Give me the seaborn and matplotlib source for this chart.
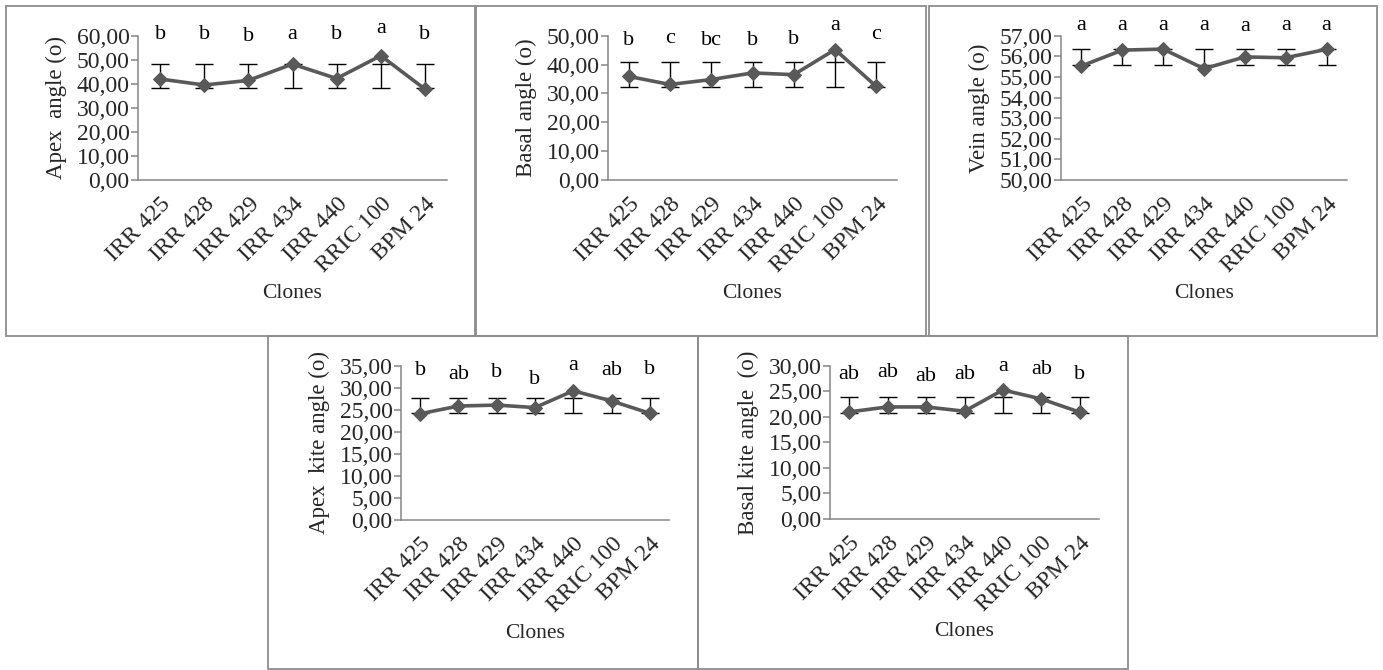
import numpy as np
import pandas as pd
import matplotlib
matplotlib.use("Agg")
import matplotlib.pyplot as plt
import seaborn as sns
from matplotlib.patches import Rectangle
from matplotlib.ticker import FuncFormatter, MultipleLocator, FixedLocator

clones = ["IRR 425", "IRR 428", "IRR 429", "IRR 434", "IRR 440", "RRIC 100", "BPM 24"]

# panel 1: apex angle
apex_mean = [42.0, 39.5, 41.4, 48.2, 42.2, 51.7, 37.8]
apex_lo = [38.2] * 7
apex_hi = [48.1] * 7
apex_letters = ["b", "b", "b", "a", "b", "a", "b"]
apex_letter_y = [60.6, 60.6, 59.6, 60.3, 60.6, 63.0, 60.6]

# panel 2: basal angle
basal_mean = [35.9, 33.1, 34.8, 37.1, 36.5, 45.2, 32.4]
basal_lo = [32.3] * 7
basal_hi = [40.8] * 7
basal_letters = ["b", "c", "bc", "b", "b", "a", "c"]
basal_letter_y = [48.3, 49.1, 48.5, 48.5, 48.8, 53.5, 50.5]

# panel 3: vein angle
vein_mean = [55.53, 56.30, 56.35, 55.40, 55.97, 55.93, 56.34]
vein_lo = [55.59] * 7
vein_hi = [56.35] * 7
vein_letters = ["a"] * 7
vein_letter_y = [57.48, 57.48, 57.48, 57.48, 57.44, 57.48, 57.48]

# panel 4: apex kite angle
akite_mean = [24.1, 25.85, 26.07, 25.5, 29.3, 27.0, 24.2]
akite_lo = [24.26] * 7
akite_hi = [27.74] * 7
akite_letters = ["b", "ab", "b", "b", "a", "ab", "b"]
akite_letter_y = [34.0, 32.9, 33.4, 31.9, 35.15, 33.9, 34.2]

# panel 5: basal kite angle
bkite_mean = [20.96, 21.93, 21.93, 21.09, 25.25, 23.49, 20.9]
bkite_lo = [20.76] * 7
bkite_hi = [23.82] * 7
bkite_letters = ["ab", "ab", "ab", "ab", "a", "ab", "b"]
bkite_letter_y = [28.2, 28.6, 27.9, 28.2, 29.8, 29.2, 28.2]

W, H = 1383, 670
sns.set_theme(style="white")
plt.rcParams["font.family"] = ["Liberation Serif", "DejaVu Serif"]
plt.rcParams["font.size"] = 16

LINE = "#595959"
AXIS = "#868686"
BORDER = "#8c8c8c"
TICK_FS = 17
LABEL_FS = 16.5
XLAB_FS = 15.5
LETTER_FS = 16


def rect(x0, x1, y0, y1):
    return [x0 / W, 1 - y1 / H, (x1 - x0) / W, (y1 - y0) / H]


def comma_fmt(v, pos):
    return f"{v:.2f}".replace(".", ",")


def panel(fig, box, mean, lo, hi, letters, letter_y, ylabel, ylim, step):
    ax = fig.add_axes(box)
    df = pd.DataFrame({"clone": clones, "mean": mean})
    xs = np.arange(len(clones))
    # error bars sit under the series
    ax.vlines(xs, np.minimum(lo, mean), np.maximum(hi, mean), color="black", lw=1.0, zorder=2)
    ax.plot(xs, lo, ls="none", marker="_", ms=13, mew=1.0, color="black", zorder=2)
    ax.plot(xs, hi, ls="none", marker="_", ms=13, mew=1.0, color="black", zorder=2)
    sns.lineplot(data=df, x="clone", y="mean", ax=ax, color=LINE, lw=2.6,
                 marker="D", markersize=7.5, markeredgecolor=LINE, zorder=3)
    for i, (t, ty) in enumerate(zip(letters, letter_y)):
        ax.text(i, ty, t, ha="center", va="center", fontsize=LETTER_FS, color="black")
    ax.set_xlim(-0.5, len(clones) - 0.5)
    ax.set_ylim(*ylim)
    ax.yaxis.set_major_locator(MultipleLocator(step))
    ax.yaxis.set_major_formatter(FuncFormatter(comma_fmt))
    ax.xaxis.set_major_locator(FixedLocator(xs))
    ax.xaxis.set_minor_locator(FixedLocator(np.arange(-0.5, len(clones), 1.0)))
    ax.set_xticklabels(clones, rotation=45, ha="right", rotation_mode="anchor")
    ax.tick_params(axis="x", which="major", length=0, pad=10, labelsize=TICK_FS)
    ax.tick_params(axis="x", which="minor", length=5, width=1.1, color=AXIS, direction="out")
    ax.tick_params(axis="y", length=5, width=1.1, color=AXIS, direction="out",
                   labelsize=TICK_FS, pad=1, left=True)
    for s in ["top", "right"]:
        ax.spines[s].set_visible(False)
    for s in ["left", "bottom"]:
        ax.spines[s].set_color(AXIS)
        ax.spines[s].set_linewidth(1.1)
    ax.set_facecolor("none")
    ax.set_ylabel(ylabel, fontsize=LABEL_FS, labelpad=7)
    ax.set_xlabel("Clones", fontsize=XLAB_FS)
    ax.xaxis.label.set_va("center")
    ax.grid(False)
    return ax


fig = plt.figure(figsize=(W / 100, H / 100), dpi=100)

# panel frames
for x0, x1, y0, y1 in [(6, 475, 6, 336), (476, 926, 6, 336), (929, 1377, 6, 336),
                       (268, 698, 336, 669), (698, 1128, 336, 669)]:
    fig.add_artist(Rectangle((x0 / W, 1 - y1 / H), (x1 - x0) / W, (y1 - y0) / H,
                             transform=fig.transFigure, fill=False, ec=BORDER, lw=1.3))

a1 = panel(fig, rect(138, 447, 35.7, 180), apex_mean, apex_lo, apex_hi, apex_letters,
           apex_letter_y, "Apex  angle (o)", (0, 60), 10)
a2 = panel(fig, rect(608, 897, 35.7, 180), basal_mean, basal_lo, basal_hi, basal_letters,
           basal_letter_y, "Basal angle (o)", (0, 50), 10)
a3 = panel(fig, rect(1061, 1347, 35.7, 180), vein_mean, vein_lo, vein_hi, vein_letters,
           vein_letter_y, "Vein angle (o)", (50, 57), 1)
a4 = panel(fig, rect(401, 669, 365.7, 520), akite_mean, akite_lo, akite_hi, akite_letters,
           akite_letter_y, "Apex  kite angle (o)", (0, 35), 5)
a5 = panel(fig, rect(830, 1099, 365.7, 519), bkite_mean, bkite_lo, bkite_hi, bkite_letters,
           bkite_letter_y, "Basal kite angle  (o)", (0, 30), 5)

for ax, h in [(a1, 144.3), (a2, 144.3), (a3, 144.3), (a4, 154.3), (a5, 153.3)]:
    ax.xaxis.set_label_coords(0.5, -(293 - 180) / h)

fig.savefig("out.png", dpi=100, facecolor="white")
